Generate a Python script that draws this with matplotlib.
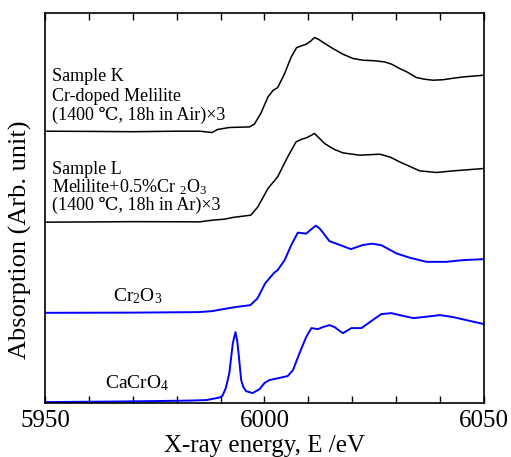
# Cr K-edge XANES spectra: samples K/L vs. Cr2O3 and CaCrO4 references
import matplotlib
matplotlib.use('Agg')
import matplotlib.pyplot as plt
from matplotlib.ticker import MultipleLocator, FuncFormatter

plt.rcParams['font.family'] = ['Liberation Serif', 'DejaVu Serif', 'Noto Sans CJK JP']
plt.rcParams['mathtext.fontset'] = 'custom'
plt.rcParams['mathtext.rm'] = 'Liberation Serif'
plt.rcParams['mathtext.it'] = 'Liberation Serif:italic'

# Sample K (Cr-doped Melilite, x3), absorption in arb. units (offset included)
e_k = [5950, 5960, 5970, 5980, 5985.2, 5988.1, 5989.3, 5992.0, 5996.6, 5997.7,
       5999.2, 6000.8, 6002.0, 6003.0, 6004.6, 6006.1, 6007.3, 6008.5, 6009.5, 6010.5,
       6011.4, 6012.3, 6013.3, 6015.6, 6017.9, 6020.2, 6022.5, 6025.0, 6027.4, 6029.0,
       6030.8, 6032.6, 6034.6, 6036.5, 6038.4, 6040.7, 6043.0, 6045.3, 6050]
a_k = [2.72, 2.718, 2.715, 2.72, 2.72, 2.707, 2.737, 2.757, 2.763, 2.79,
       2.90, 3.063, 3.13, 3.155, 3.297, 3.463, 3.555, 3.575, 3.59, 3.62,
       3.657, 3.64, 3.61, 3.547, 3.49, 3.447, 3.43, 3.425, 3.413, 3.39,
       3.347, 3.31, 3.257, 3.24, 3.23, 3.235, 3.25, 3.263, 3.28]

# Sample L (Melilite + 0.5% Cr2O3, x3)
e_l = [5950, 5960, 5970, 5980, 5985.2, 5988.2, 5990.9, 5992.8, 5996.9, 5998.5,
       6000.8, 6002.0, 6003.0, 6005.3, 6007.2, 6008.5, 6009.5, 6010.5, 6011.4, 6012.5,
       6013.7, 6015.8, 6017.9, 6021.7, 6024.0, 6026.3, 6028.7, 6030.8, 6033.0, 6035.4,
       6039.2, 6043.0, 6046.5, 6050]
a_l = [1.81, 1.812, 1.815, 1.814, 1.813, 1.83, 1.84, 1.857, 1.88, 1.963,
       2.147, 2.21, 2.263, 2.463, 2.613, 2.64, 2.653, 2.675, 2.697, 2.65,
       2.597, 2.54, 2.503, 2.48, 2.485, 2.49, 2.46, 2.413, 2.37, 2.323,
       2.307, 2.323, 2.335, 2.347]

# Cr2O3 reference
e_cr2o3 = [5950, 5970, 5985, 5988.1, 5990.2, 5993.3, 5996.8, 5998.4, 6000.2, 6002.2,
           6003.0, 6004.6, 6006.1, 6007.6, 6008.6, 6009.5, 6010.7, 6011.7, 6012.5, 6013.2,
           6014.8, 6017.1, 6019.7, 6022.3, 6024.5, 6026.6, 6028.3, 6030.1, 6033.2, 6036.9,
           6041.4, 6045.2, 6050]
a_cr2o3 = [0.903, 0.905, 0.91, 0.92, 0.937, 0.96, 0.98, 1.047, 1.20, 1.303,
           1.33, 1.43, 1.58, 1.705, 1.70, 1.695, 1.74, 1.775, 1.75, 1.713,
           1.62, 1.583, 1.54, 1.58, 1.595, 1.58, 1.54, 1.497, 1.453, 1.413,
           1.413, 1.43, 1.44]

# CaCrO4 reference
e_cacro4 = [5950, 5965, 5975, 5983, 5986.8, 5989.7, 5990.4, 5991.2, 5992.0, 5992.8,
            5993.4, 5993.8, 5994.1, 5994.7, 5995.2, 5995.8, 5997.3, 5998.9, 6000.0, 6001.1,
            6002.7, 6005.3, 6006.5, 6008.0, 6009.5, 6010.7, 6012.2, 6013.3, 6014.8, 6016.0,
            6017.5, 6017.9, 6019.8, 6022.1, 6024.0, 6026.6, 6028.9, 6030.8, 6033.9, 6036.1,
            6040.0, 6043.0, 6046.0, 6050]
a_cacro4 = [0.01, 0.015, 0.02, 0.025, 0.03, 0.055, 0.07, 0.15, 0.30, 0.60,
            0.71, 0.62, 0.50, 0.23, 0.16, 0.12, 0.10, 0.14, 0.20, 0.23,
            0.245, 0.27, 0.33, 0.50, 0.66, 0.75, 0.74, 0.76, 0.78, 0.76,
            0.71, 0.70, 0.75, 0.75, 0.81, 0.89, 0.90, 0.88, 0.85, 0.86,
            0.88, 0.86, 0.83, 0.79]

fig = plt.figure(figsize=(5.11, 4.57), dpi=100)
ax = fig.add_axes([0.088, 0.118, 0.859, 0.853])

ax.plot(e_k, a_k, color='black', lw=1.1)
ax.plot(e_l, a_l, color='black', lw=1.1)
ax.plot(e_cr2o3, a_cr2o3, color='#0000ff', lw=1.4)
ax.plot(e_cacro4, a_cacro4, color='#0000ff', lw=1.4)

ax.set_xlim(5950, 6050)
ax.set_ylim(0, 3.9)
ax.set_yticks([])
ax.xaxis.set_major_locator(MultipleLocator(10))
ax.xaxis.set_major_formatter(FuncFormatter(lambda v, p: '%d' % v if round(v) % 50 == 0 else ''))
ax.tick_params(axis='x', direction='in', top=True, length=5, width=1, labelsize=18, pad=5)
for s in ax.spines.values():
    s.set_linewidth(1.2)

ax.set_xlabel('X-ray energy, E /eV', fontsize=18, labelpad=2)
ax.set_ylabel('Absorption (Arb. unit)', fontsize=19)
ax.yaxis.set_label_coords(-0.03, 0.42)

# labels
tr = ax.transAxes
ax.text(0.015, 0.826, 'Sample K', transform=tr, fontsize=13, va='baseline')
ax.text(0.015, 0.776, 'Cr-doped Melilite', transform=tr, fontsize=13, va='baseline')
ax.text(0.015, 0.726, '(1400 ℃, 18h in Air)×3', transform=tr, fontsize=13, va='baseline')
ax.text(0.015, 0.587, 'Sample L', transform=tr, fontsize=13, va='baseline')
ax.text(0.015, 0.540, 'Melilite+0.5%Cr $_2$O$_3$', transform=tr, fontsize=13, va='baseline')
ax.text(0.015, 0.495, '(1400 ℃, 18h in Ar)×3', transform=tr, fontsize=13, va='baseline')
ax.text(0.155, 0.274, 'Cr$_2$O$_3$', transform=tr, fontsize=14, va='center')
ax.text(0.137, 0.051, 'CaCrO$_4$', transform=tr, fontsize=14, va='center')

fig.savefig('out.png', dpi=100)
